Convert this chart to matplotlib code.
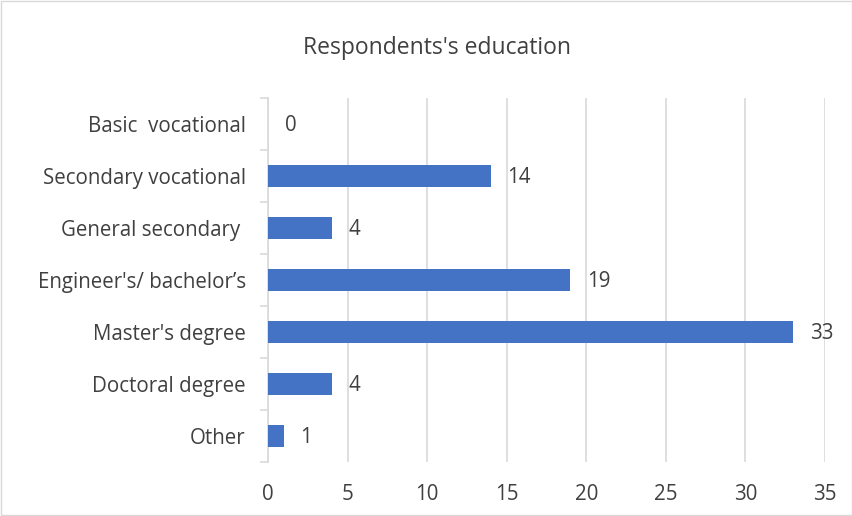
import matplotlib.pyplot as plt
from matplotlib.patches import Rectangle

# Survey data, top to bottom as shown in the chart
categories = ["Basic  vocational", "Secondary vocational", "General secondary ",
              "Engineer's/ bachelor\u2019s", "Master's degree", "Doctoral degree", "Other"]
counts = [0, 14, 4, 19, 33, 4, 1]
x_ticks = [0, 5, 10, 15, 20, 25, 30, 35]

BAR = "#4472C4"
TXT = "#404040"
GRID = "#d9d9d9"
FS = 14.8

plt.rcParams["font.family"] = ["Open Sans", "DejaVu Sans"]

fig = plt.figure(figsize=(8.53, 5.16), dpi=100)
ax = fig.add_axes([268 / 853, 1 - 462 / 516, (825 - 268) / 853, (462 - 98) / 516])

pos = list(range(len(categories)))
ax.barh(pos, counts, height=0.42, color=BAR, zorder=3)
ax.set_ylim(len(categories) - 0.5, -0.5)
ax.set_xlim(0, 35)

ax.set_xticks(x_ticks)
ax.set_xticklabels([str(t) for t in x_ticks], fontsize=FS, color=TXT)
ax.tick_params(axis="x", length=0, pad=16)
ax.xaxis.grid(True, color=GRID, linewidth=1.2, zorder=0)

ax.set_yticks(pos)
ax.set_yticklabels(categories, fontsize=FS, color=TXT)
ax.tick_params(axis="y", length=0, pad=16)
# small tick marks between categories
ax.set_yticks([p - 0.5 for p in pos] + [len(pos) - 0.5], minor=True)
ax.tick_params(axis="y", which="minor", length=6, color=GRID, width=1.2)

for s in ["top", "right", "bottom"]:
    ax.spines[s].set_visible(False)
ax.spines["left"].set_color(GRID)
ax.spines["left"].set_linewidth(1.2)

for p, v in zip(pos, counts):
    ax.annotate(str(v), (v, p), xytext=(12, -1), textcoords="offset points",
                va="center", ha="left", fontsize=FS, color=TXT)

fig.text(437 / 853, 1 - 48 / 516, "Respondents's education", ha="center", va="center",
         fontsize=16.5, color=TXT)

fig.patches.append(Rectangle((0.001, 0.001), 0.998, 0.998, transform=fig.transFigure,
                             fill=False, edgecolor=GRID, linewidth=1))

fig.savefig("out.png", dpi=100)
